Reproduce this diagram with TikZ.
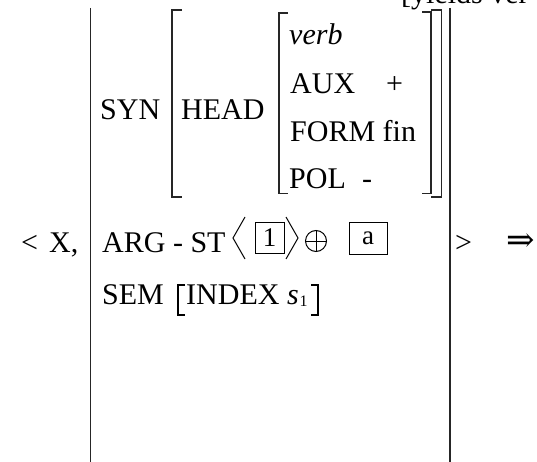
\documentclass[tikz,border=0pt]{standalone}
\usepackage{fontspec}
\setmainfont{Liberation Serif}
\newfontfamily\symfont{DejaVu Serif}
\begin{document}
\begin{tikzpicture}[x=1pt,y=-1pt,
  txt/.style={anchor=base west,inner sep=0pt,font=\fontsize{30}{32}\selectfont},
  boxtxt/.style={draw,line width=1pt,inner sep=0pt,minimum width=29pt,minimum height=31pt,font=\fontsize{27}{29}\selectfont},
  bar/.style={line width=1.3pt,black!85},
  brk/.style={line width=1.3pt,black!85},
  thin/.style={line width=1pt}]
\useasboundingbox (0,0) rectangle (537,462);
\clip (0,0) rectangle (537,462);

% partly cut text at top right
\node[txt] (cut) at (401,4) {[yields ver};

% outer bars of the AVM
\draw[bar] (90.5,8) -- (90.5,470);
\draw[bar] (450,8) -- (450,470);

% SYN brackets
\draw[brk] (182,10) -- (172,10) -- (172,197) -- (182,197);
\draw[brk] (431,10) -- (441.5,10) -- (441.5,197) -- (431,197);
% HEAD brackets
\draw[brk] (288,13) -- (279,13) -- (279,193.5) -- (288,193.5);
\draw[brk] (422,12) -- (431,12) -- (431,193.5) -- (422,193.5);

% texts
\node[txt] (lt) at (21,252) {<};
\node[txt] (x) at (49,252) {X,};
\node[txt] (syn) at (100,120) {SYN};
\node[txt] (head) at (181,120) {HEAD};
\node[txt] (verb) at (289,44.5) {\itshape verb};
\node[txt] (aux) at (290,94) {AUX};
\node[txt] (plus) at (386,94) {+};
\node[txt] (form) at (290,142) {FORM fin};
\node[txt] (pol) at (289,189) {POL};
\node[txt] (minus) at (362,189) {-};
\node[txt] (arg) at (102,252) {ARG - ST};

% angle brackets and boxes
\draw[thin] (245,217) -- (233,238) -- (245,259);
\node[boxtxt] (b1) at (269.5,237.5) {1};
\draw[thin] (286,217) -- (298,238) -- (286,259);
\node[draw,thin,circle,minimum size=21pt,inner sep=0pt] (oplus) at (316,241) {};
\draw[thin] (oplus.north) -- (oplus.south);
\draw[thin] (oplus.west) -- (oplus.east);
\node[boxtxt,minimum width=38pt,minimum height=32pt] (ba) at (368,238) {a};

\node[txt] (gt) at (455,252) {>};
\node[anchor=west,inner sep=0pt,font=\fontsize{34}{36}\selectfont\symfont] (arr) at (506,243) {⇒};

% SEM line
\node[txt] (sem) at (102,304) {SEM};
\draw[line width=2pt] (185,285) -- (178,285) -- (178,315) -- (185,315);
\node[txt] (index) at (186,304) {INDEX};
\node[txt] (s) at (287,304) {\itshape s};
\node[anchor=base west,inner sep=0pt,font=\fontsize{16}{18}\selectfont] (one) at (299.5,306) {1};
\draw[line width=2pt] (311,285) -- (318,285) -- (318,315) -- (311,315);
\end{tikzpicture}
\end{document}
